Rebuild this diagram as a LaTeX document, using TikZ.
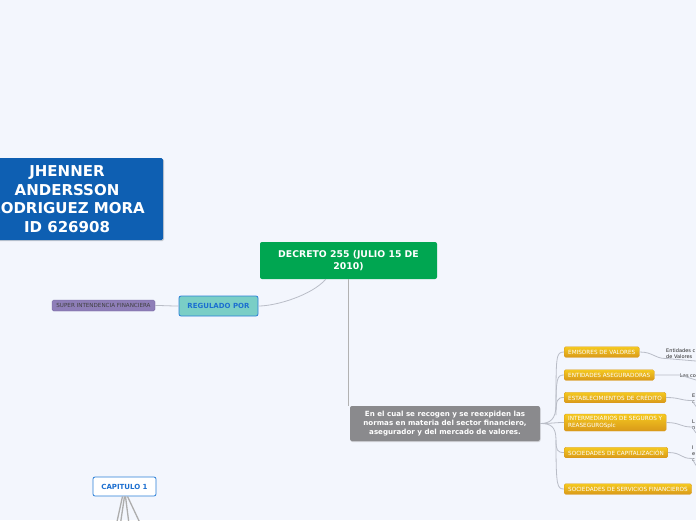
\documentclass[tikz,border=0pt]{standalone}
\usepackage{fontspec}
\setmainfont{DejaVu Sans}
\usetikzlibrary{shadows}
\definecolor{bgc}{HTML}{F3F6FD}
\definecolor{titleblue}{HTML}{0E5FB2}
\definecolor{decgreen}{HTML}{00A651}
\definecolor{tealf}{HTML}{7ACEC6}
\definecolor{blueb}{HTML}{2A7FD8}
\definecolor{bluet}{HTML}{1C6FD0}
\definecolor{purplef}{HTML}{8E7EB8}
\definecolor{purpled}{HTML}{6A5B98}
\definecolor{grayf}{HTML}{8A8A8D}
\definecolor{orangef}{HTML}{F0B22C}
\definecolor{oranged}{HTML}{D9991A}
\definecolor{linec}{HTML}{B9BDC7}
\tikzset{
  conn/.style={draw=linec, line width=0.8pt},
  titlebox/.style={draw=none, fill=titleblue, rounded corners=1.5pt, text=white,
    font=\fontsize{15}{18.5}\selectfont\bfseries, align=center,
    drop shadow={shadow xshift=1pt, shadow yshift=-1pt, opacity=0.35}},
  greenbox/.style={fill=decgreen, rounded corners=2pt, text=white,
    font=\fontsize{9.3}{12}\selectfont\bfseries, align=center},
  tealbox/.style={fill=tealf, draw=blueb, line width=0.8pt, rounded corners=2pt, text=bluet,
    font=\fontsize{7}{8}\selectfont\bfseries},
  purplebox/.style={fill=purplef, draw=purpled, line width=0.3pt, rounded corners=1.5pt, text=black!75,
    font=\fontsize{5.6}{6}\selectfont, inner sep=0pt},
  graybox/.style={fill=grayf, rounded corners=2pt, text=white,
    font=\fontsize{7.1}{8.7}\selectfont\bfseries, align=center,
    drop shadow={shadow xshift=0.5pt, shadow yshift=-1pt, opacity=0.3}},
  capbox/.style={fill=white, draw=blueb, line width=0.8pt, rounded corners=2pt, text=bluet,
    font=\fontsize{7}{8}\selectfont\bfseries},
  orangebox/.style={top color=orangef!70!yellow, bottom color=oranged, draw=oranged, line width=0.3pt,
    rounded corners=1.5pt, text=white, font=\fontsize{5.7}{7}\selectfont, inner xsep=4pt, inner ysep=0pt,
    minimum height=10.5pt, align=left, anchor=west},
  sidetext/.style={text=black!85, font=\fontsize{5}{6}\selectfont, anchor=south west, inner sep=0pt, align=left},
}
\begin{document}
\begin{tikzpicture}[x=1pt,y=-1pt]
\useasboundingbox (0,0) rectangle (696,520);
\fill[bgc] (0,0) rectangle (696,520);
\clip (0,0) rectangle (696,520);

% nodes
\node[titlebox, minimum width=192pt, minimum height=82pt] (title) at (67,199)
  {JHENNER\\ANDERSSON\\RODRIGUEZ MORA\\ID 626908};
\node[greenbox, minimum width=177pt, minimum height=37pt] (dec) at (348.5,260.5)
  {DECRETO 255 (JULIO 15 DE\\2010)};
\node[tealbox, minimum width=79pt, minimum height=20pt] (reg) at (218.5,306) {REGULADO POR};
\node[purplebox, minimum width=103pt, minimum height=11pt] (sup) at (103.5,305.5) {SUPER INTENDENCIA FINANCIERA};
\node[graybox, minimum width=190pt, minimum height=35pt] (gray) at (445,423.5)
  {En el cual se recogen y se reexpiden las\\normas en materia del sector financiero,\\asegurador y del mercado de valores.};
\node[capbox, minimum width=63pt, minimum height=19pt] (cap) at (124.5,486.5) {CAPITULO 1};

% orange boxes
\node[orangebox] (o1) at (564,352) {EMISORES DE VALORES};
\node[orangebox] (o2) at (564,375) {ENTIDADES ASEGURADORAS};
\node[orangebox] (o3) at (564,397.5) {ESTABLECIMIENTOS DE CRÉDITO};
\node[orangebox, minimum height=17pt] (o4) at (564,422.5) {INTERMEDIARIOS DE SEGUROS Y\\REASEGUROSplc};
\node[orangebox] (o5) at (564,452.5) {SOCIEDADES DE CAPITALIZACIÓN};
\node[orangebox] (o6) at (564,489) {SOCIEDADES DE SERVICIOS FINANCIEROS};

% side texts
\node[sidetext] (t1) at (666,358.5) {Entidades c\\de Valores};
\node[sidetext] (t2) at (680,377.5) {Las co};
\node[sidetext] (t3) at (692,403.5) {E\\c};
\node[sidetext] (t4) at (692,430) {L\\n};
\node[sidetext] (t5) at (692,462) {I\\e\\c};
\coordinate (e1) at (696,361);
\coordinate (e2) at (696,380);
\coordinate (e3) at (696,406.5);
\coordinate (e4) at (696,433);
\coordinate (e5) at (696,465.5);

% connectors
\draw[conn] (dec.south west)+(66,0) coordinate (dsw) .. controls +(-14,16) and +(18,0) .. (reg.east);
\draw[conn] (reg.west) .. controls +(-10,0) and +(10,0) .. (sup.east);
\draw[draw=black!30, line width=1.3pt] (dec.south) coordinate (ds) -- (ds |- gray.north);

\coordinate (b1) at (556,405);
\coordinate (b2) at (556,410);
\coordinate (b3) at (556,415);
\coordinate (b5) at (556,440);
\draw[conn] (gray.east) .. controls +(10,0) and +(0,14) .. (b1) .. controls (556,356) and (556,352) .. (o1.west);
\draw[conn] (b2) .. controls (556,378) and (557,375) .. (o2.west);
\draw[conn] (b3) .. controls (556,400) and (557,397.5) .. (o3.west);
\draw[conn] (gray.east) .. controls +(12,0) and +(-10,0) .. (o4.west);
\draw[conn] (gray.east) .. controls +(10,0) and +(0,-14) .. (b5) .. controls (556,450) and (557,452.5) .. (o5.west);
\draw[conn] (b5) .. controls (556,486) and (557,489) .. (o6.west);

\draw[conn] (o1.east) .. controls +(14,0) and +(-12,0) .. (t1.south west) -- (e1);
\draw[conn] (o2.east) .. controls +(10,0) and +(-8,0) .. ([yshift=2.5pt]t2.south west) -- (e2);
\draw[conn] (o3.east) .. controls +(14,0) and +(-12,0) .. ([yshift=3pt]t3.south west) -- (e3);
\draw[conn] (o4.east) .. controls +(14,0) and +(-12,0) .. ([yshift=3pt]t4.south west) -- (e4);
\draw[conn] (o5.east) .. controls +(14,0) and +(-12,0) .. ([yshift=3.5pt]t5.south west) -- (e5);

% capitulo branches
\coordinate (c1) at (113,540);
\coordinate (c2) at (118,540);
\coordinate (c3) at (131,540);
\coordinate (c4) at (148,540);
\foreach \c/\dx in {c1/-2,c2/0,c3/1,c4/3}{
  \draw[draw=black!32, line width=1.3pt] ([xshift=\dx pt]cap.south) -- (\c);
}
\end{tikzpicture}
\end{document}
